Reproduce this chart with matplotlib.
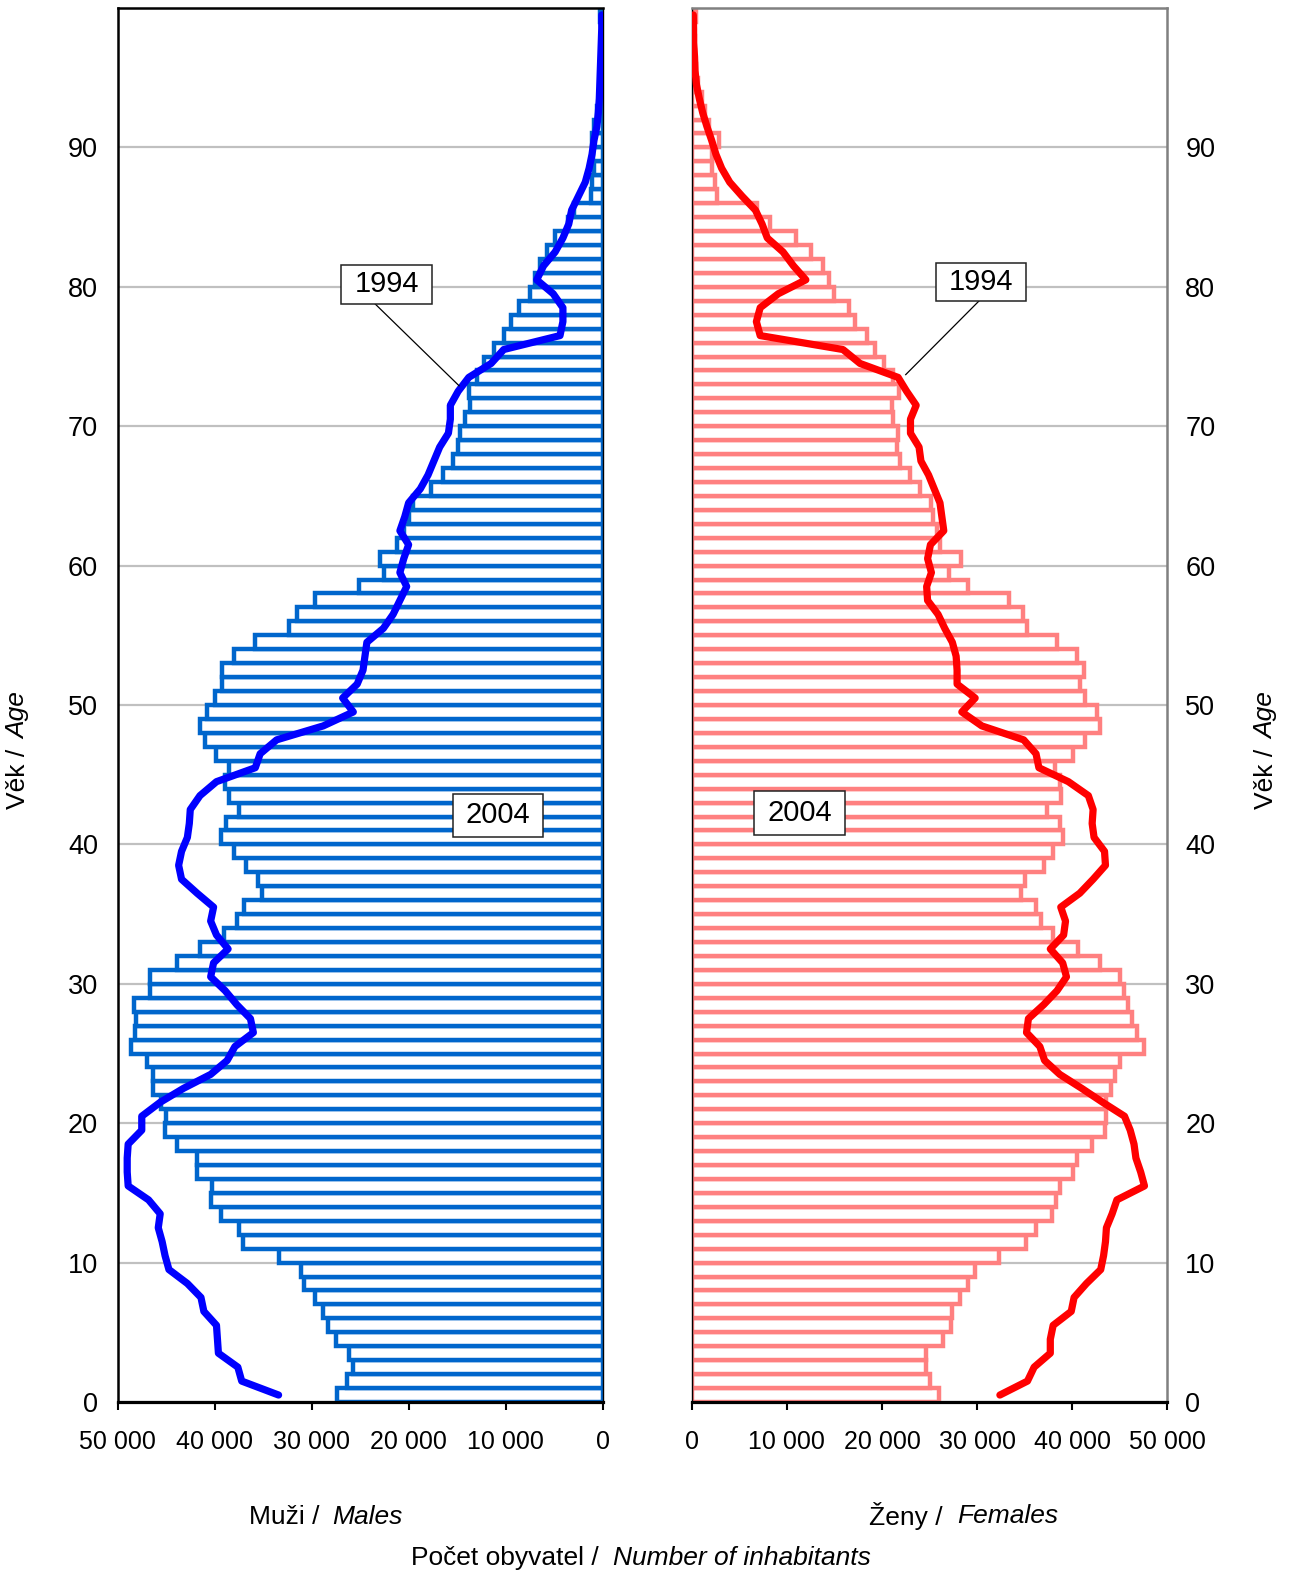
import numpy as np
import matplotlib
matplotlib.use("Agg")
import matplotlib.pyplot as plt
from matplotlib.patches import Rectangle

plt.rcParams['font.family'] = ['Liberation Sans', 'DejaVu Sans']

# ---------------- data (thousands of inhabitants, ages 0..99) ----------------
ages = np.arange(100)

males_2004 = [27.4, 26.3, 25.7, 26.1, 27.5, 28.3, 28.8, 29.6, 30.8, 31.1,
              33.4, 37.1, 37.5, 39.3, 40.4, 40.3, 41.8, 41.8, 43.9, 45.1,
              45.0, 45.5, 46.3, 46.3, 47.0, 48.6, 48.2, 48.1, 48.3, 46.6,
              46.6, 43.9, 41.5, 39.0, 37.7, 37.0, 35.1, 35.5, 36.8, 38.0,
              39.3, 38.8, 37.5, 38.5, 38.9, 38.5, 39.8, 41.0, 41.5, 40.8,
              40.0, 39.2, 39.2, 38.0, 35.8, 32.3, 31.5, 29.6, 25.1, 22.5,
              23.0, 21.2, 20.5, 20.0, 19.5, 17.7, 16.5, 15.4, 14.9, 14.7,
              14.2, 13.7, 13.8, 13.0, 12.2, 11.2, 10.2, 9.4, 8.6, 7.5,
              7.0, 6.5, 5.7, 4.9, 3.6, 3.0, 1.2, 1.1, 0.9, 1.0,
              1.1, 0.9, 0.6, 0.4, 0.3, 0.2, 0.15, 0.1, 0.1, 0.25]

males_1994 = [33.4, 37.2, 37.6, 39.6, 39.7, 39.8, 41.1, 41.4, 42.8, 44.7,
              45.1, 45.4, 45.8, 45.6, 46.8, 48.9, 49.0, 49.0, 48.9, 47.5,
              47.5, 45.6, 43.2, 40.4, 38.7, 37.9, 36.0, 36.3, 37.7, 38.9,
              40.4, 40.1, 38.6, 39.8, 40.4, 40.1, 41.8, 43.4, 43.7, 43.4,
              42.8, 42.6, 42.5, 41.5, 39.8, 35.8, 35.3, 33.6, 28.8, 25.7,
              26.8, 25.3, 24.7, 24.5, 24.3, 22.6, 21.6, 20.9, 20.2, 20.9,
              20.5, 20.0, 20.9, 20.4, 20.0, 18.8, 18.0, 17.4, 16.8, 15.9,
              15.7, 15.7, 14.9, 13.8, 11.5, 10.2, 4.4, 4.1, 4.1, 5.1,
              6.8, 6.1, 4.9, 4.1, 3.5, 3.2, 2.5, 1.8, 1.4, 1.1,
              0.9, 0.6, 0.45, 0.35, 0.3, 0.25, 0.2, 0.15, 0.1, 0.1]

females_2004 = [26.0, 25.1, 24.6, 24.6, 26.4, 27.3, 27.4, 28.2, 29.1, 29.8,
                32.3, 35.1, 36.2, 37.9, 38.3, 38.7, 40.1, 40.5, 42.1, 43.4,
                43.6, 43.6, 44.1, 44.5, 45.0, 47.5, 46.8, 46.3, 45.9, 45.4,
                45.0, 42.9, 40.6, 38.0, 36.7, 36.2, 34.6, 35.0, 37.0, 38.0,
                39.0, 38.7, 37.4, 38.8, 38.7, 38.2, 40.1, 41.4, 42.9, 42.6,
                41.4, 40.8, 41.2, 40.5, 38.4, 35.3, 34.8, 33.4, 29.1, 27.1,
                28.3, 26.1, 25.8, 25.4, 25.2, 24.0, 23.0, 21.9, 21.6, 21.7,
                21.2, 21.1, 21.8, 21.2, 20.2, 19.3, 18.4, 17.2, 16.5, 15.0,
                14.4, 13.8, 12.5, 11.0, 8.2, 6.9, 2.7, 2.4, 2.1, 2.1,
                2.9, 1.85, 1.4, 1.05, 0.7, 0.5, 0.35, 0.3, 0.2, 0.5]

females_1994 = [32.4, 35.3, 36.0, 37.7, 37.7, 38.0, 39.9, 40.2, 41.5, 43.0,
                43.3, 43.5, 43.6, 44.2, 44.7, 47.6, 47.2, 46.7, 46.5, 46.1,
                45.5, 43.2, 41.0, 38.7, 37.1, 36.6, 35.2, 35.4, 37.0, 38.4,
                39.4, 39.0, 37.7, 39.1, 39.3, 38.8, 40.8, 42.2, 43.5, 43.4,
                42.3, 42.1, 42.2, 41.7, 39.6, 36.5, 36.2, 34.9, 30.5, 28.4,
                29.8, 27.9, 27.9, 27.8, 27.4, 26.6, 25.9, 24.8, 24.7, 25.2,
                24.8, 25.1, 26.5, 26.3, 26.1, 25.5, 24.9, 24.1, 23.9, 23.0,
                23.0, 23.6, 22.6, 21.7, 17.7, 15.9, 7.2, 6.8, 7.2, 9.1,
                12.0, 10.7, 9.6, 7.95, 7.4, 6.7, 5.3, 4.0, 3.15, 2.55,
                2.1, 1.6, 1.15, 0.8, 0.5, 0.35, 0.3, 0.2, 0.2, 0.17]

x_ticks = [0, 10000, 20000, 30000, 40000, 50000]
x_tick_labels = ["0", "10 000", "20 000", "30 000", "40 000", "50 000"]
y_ticks = [0, 10, 20, 30, 40, 50, 60, 70, 80, 90]

m04 = np.array(males_2004) * 1000
m94 = np.array(males_1994) * 1000
f04 = np.array(females_2004) * 1000
f94 = np.array(females_1994) * 1000
yc = ages + 0.5

# ---------------- figure ----------------
W, H = 1292, 1571
fig = plt.figure(figsize=(W / 100, H / 100), dpi=100)
fig.patch.set_facecolor('white')

axL = fig.add_axes([117.5 / W, 169 / H, 485.2 / W, 1394 / H])
axR = fig.add_axes([691.7 / W, 169 / H, 475.6 / W, 1394 / H])

GRID = '#c0c0c0'
for ax in (axL, axR):
    ax.set_ylim(0, 100)
    ax.set_yticks(y_ticks)
    ax.yaxis.grid(True, color=GRID, lw=1.6)
    ax.set_axisbelow(True)
    ax.set_xticks(x_ticks)
    ax.set_xticklabels(x_tick_labels)
    ax.tick_params(axis='x', length=6, width=1.5, direction='out',
                   labelsize=18, pad=14, color='black')
    ax.tick_params(axis='y', length=0, labelsize=19.5)

axL.set_xlim(50000, 0)
axR.set_xlim(0, 50000)
axL.tick_params(axis='y', pad=14)
axR.yaxis.tick_right()
axR.tick_params(axis='y', pad=13)

# bars (2004)
axL.barh(yc, m04, height=1.0, color='white', edgecolor='#0066cc',
         linewidth=3.2, zorder=2)
axR.barh(yc, f04, height=1.0, color='white', edgecolor='#ff8080',
         linewidth=3.2, zorder=2)

# lines (1994)
axL.plot(m94, yc, color='#0000ff', lw=5.2, solid_capstyle='round',
         solid_joinstyle='round', zorder=4)
axR.plot(f94, yc, color='#ff0000', lw=5.2, solid_capstyle='round',
         solid_joinstyle='round', zorder=4)

# spines
for s in ('left', 'top'):
    axL.spines[s].set_color('black')
    axL.spines[s].set_linewidth(1.8)
axL.spines['right'].set_color('black')
axL.spines['right'].set_linewidth(1.0)
axL.spines['bottom'].set_linewidth(2.3)
axR.spines['left'].set_color('black')
axR.spines['left'].set_linewidth(1.0)
axR.spines['bottom'].set_linewidth(2.3)
for s in ('top', 'right'):
    axR.spines[s].set_color('#808080')
    axR.spines[s].set_linewidth(1.8)


# annotation boxes
def label_box(ax, x0, x1, y0, y1, text):
    r = Rectangle((min(x0, x1), y0), abs(x1 - x0), y1 - y0, facecolor='white',
                  edgecolor='#222222', lw=1.1, zorder=6)
    ax.add_patch(r)
    ax.text((x0 + x1) / 2, (y0 + y1) / 2, text, ha='center', va='center',
            fontsize=21, zorder=7)


axL.plot([23450, 14800], [78.77, 72.9], color='black', lw=0.9, zorder=5)
label_box(axL, 26950, 17600, 78.77, 81.56, '1994')
label_box(axL, 15450, 6120, 40.55, 43.6, '2004')

axR.plot([30200, 22500], [78.98, 73.7], color='black', lw=0.9, zorder=5)
label_box(axR, 25660, 35120, 78.98, 81.73, '1994')
label_box(axR, 6550, 16090, 40.70, 43.81, '2004')

# axis titles
fs = 19


def fx(px):
    return px / W


def fy(py):
    return 1 - py / H


fig.text(fx(327), fy(1517), 'Muži / ', ha='right', va='center', fontsize=fs)
fig.text(fx(332), fy(1517), 'Males', ha='left', va='center', fontsize=fs, style='italic')
fig.text(fx(950), fy(1516), 'Ženy / ', ha='right', va='center', fontsize=fs)
fig.text(fx(957), fy(1516), 'Females', ha='left', va='center', fontsize=fs, style='italic')
fig.text(fx(606), fy(1558), 'Počet obyvatel / ', ha='right', va='center', fontsize=fs)
fig.text(fx(613), fy(1558), 'Number of inhabitants', ha='left', va='center', fontsize=fs,
         style='italic')

for xpx in (18, 1266):
    fig.text(fx(xpx), fy(741), 'Věk / ', rotation=90, rotation_mode='anchor',
             ha='right', va='center', fontsize=fs)
    fig.text(fx(xpx), fy(739), 'Age', rotation=90, rotation_mode='anchor',
             ha='left', va='center', fontsize=fs, style='italic')

fig.savefig('out.png', dpi=100, facecolor='white')
